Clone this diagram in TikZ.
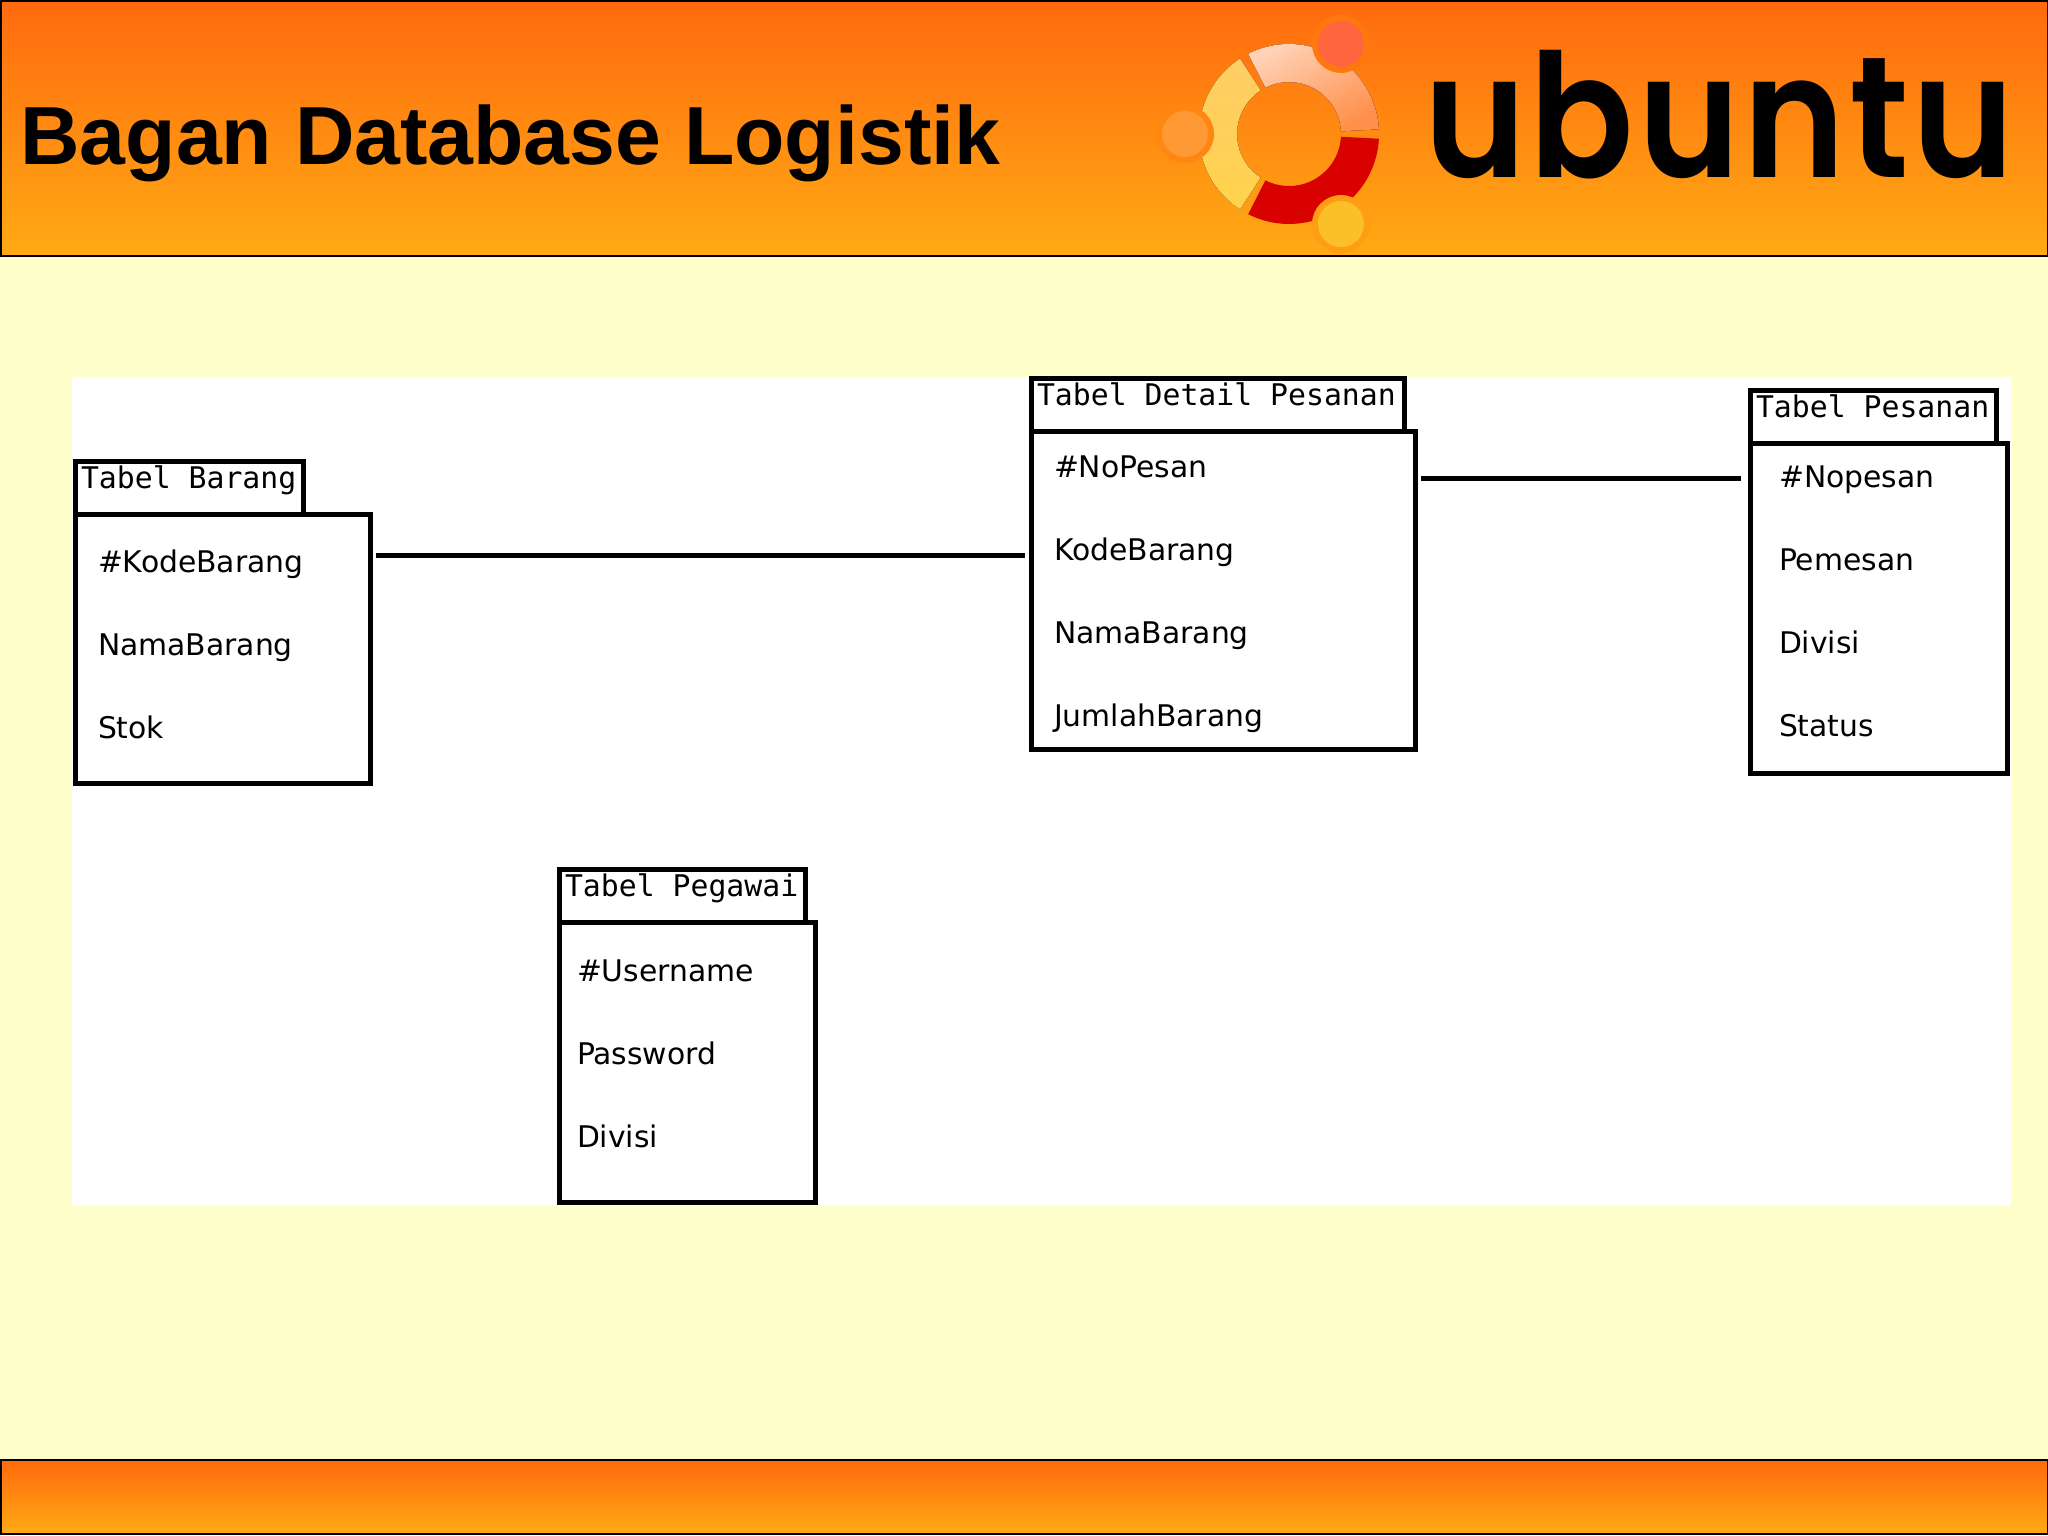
\documentclass[tikz,border=0pt]{standalone}
\usepackage{fontspec}
\setmainfont{DejaVu Sans}
\setmonofont{DejaVu Sans Mono}
\newfontfamily\titlefont{Liberation Sans}
\newfontfamily\wordfont[LetterSpace=2.5]{Poppins SemiBold}
\usetikzlibrary{positioning}
\definecolor{paper}{HTML}{FFFFCC}
\definecolor{bandtop}{HTML}{FF6A0E}
\definecolor{bandbot}{HTML}{FFAA14}
\tikzstyle{band} = [draw=black, line width=1pt, rectangle, anchor=north west, minimum width=1023.5pt, inner sep=0pt, outer sep=0pt, top color=bandtop, bottom color=bandbot]
\tikzstyle{body} = [draw, line width=2.5pt, rectangle, anchor=north west, inner sep=0pt, outer sep=0pt, fill=white]
\tikzstyle{head} = [draw, line width=2.5pt, rectangle, anchor=south west, inner xsep=3pt, inner ysep=0pt, outer sep=0pt, text height=13.5pt, text depth=13pt, align=flush left, font=\ttfamily\fontsize{14.9}{15}\selectfont, fill=white]
\tikzstyle{row} = [anchor=north west, inner sep=0pt, outer sep=0pt, text height=11pt, text depth=3.5pt, font=\fontsize{14.9}{15}\selectfont]
\tikzstyle{link} = [line width=2.5pt, shorten <=3pt, shorten >=3pt]

\begin{document}
\begin{tikzpicture}[x=0.5pt, y=-0.5pt, node distance=27pt]
    \useasboundingbox (0,0) rectangle (2048,1535);
    \fill [paper] (0,0) rectangle (2048,1535);
    \node (top band) [band, minimum height=127.5pt] at (0.5,1) {};
    \node (bottom band) [band, minimum height=37pt] at (0.5,1460) {};
    \node (title) [anchor=base west, inner sep=0pt, font=\titlefont\bfseries\fontsize{41.2}{42}\selectfont] at (20,165) {Bagan Database Logistik};
    \node (panel) [anchor=north west, inner sep=0pt, minimum width=969.5pt, minimum height=414.5pt, fill=white] at (72,377) {};

    % Logo.
    \begin{scope}[shift={(1289,134)}, y=0.5pt]
        \fill [top color=bandtop!30!white, bottom color=bandtop!75!white, shading angle=30] (3:90) arc [start angle=3, end angle=117, radius=90] -- (117:52) arc [start angle=117, end angle=3, radius=52] -- cycle;
        \fill [top color=yellow!35!orange!60!white, bottom color=yellow!50!orange!70!white] (123:90) arc [start angle=123, end angle=237, radius=90] -- (237:52) arc [start angle=237, end angle=123, radius=52] -- cycle;
        \fill [red!85!black] (243:90) arc [start angle=243, end angle=357, radius=90] -- (357:52) arc [start angle=357, end angle=243, radius=52] -- cycle;
        \fill [bandtop!80!bandbot] (60:104) circle (29);
        \fill [bandtop!55!bandbot] (180:104) circle (29);
        \fill [bandtop!20!bandbot] (300:104) circle (29);
        \fill [red!60!orange!75!white] (60:104) circle (23);
        \fill [orange!80!white] (180:104) circle (23);
        \fill [yellow!45!orange!85!white] (300:104) circle (23);
    \end{scope}
    \node (word) [anchor=base west, inner sep=0pt, transform shape, xscale=.895, font=\wordfont\fontsize{86}{86}\selectfont] at (1424,178) {ubuntu};

    % Tables.
    \node (barang body) [body, minimum width=147.5pt, minimum height=134.5pt] at (75,514) {};
    \node (barang head) [head, text width=108pt] at (barang body.north west) {Tabel Barang};
    \node (kode barang) [row, below right=18pt and 11.5pt of barang body.north west] {\#KodeBarang};
    \node (nama barang) [below=of kode barang.south west, row] {NamaBarang};
    \node (stok barang) [below=of nama barang.south west, row] {Stok};

    \node (detail body) [body, minimum width=192pt, minimum height=159pt] at (1031,431) {};
    \node (detail head) [head, text width=180.5pt] at (detail body.north west) {Tabel Detail Pesanan};
    \node (pesan detail) [row, below right=12pt and 11.5pt of detail body.north west] {\#NoPesan};
    \node (kode detail) [below=of pesan detail.south west, row] {KodeBarang};
    \node (nama detail) [below=of kode detail.south west, row] {NamaBarang};
    \node (jumlah detail) [below=of nama detail.south west, row] {JumlahBarang};

    \node (pesanan body) [body, minimum width=128.5pt, minimum height=165pt] at (1750,443) {};
    \node (pesanan head) [head, text width=117pt] at (pesanan body.north west) {Tabel Pesanan};
    \node (pesan pesanan) [row, below right=11pt and 14.5pt of pesanan body.north west] {\#Nopesan};
    \node (pemesan pesanan) [below=of pesan pesanan.south west, row] {Pemesan};
    \node (divisi pesanan) [below=of pemesan pesanan.south west, row] {Divisi};
    \node (status pesanan) [below=of divisi pesanan.south west, row] {Status};

    \node (pegawai body) [body, minimum width=128pt, minimum height=140pt] at (559,922) {};
    \node (pegawai head) [head, text width=117pt] at (pegawai body.north west) {Tabel Pegawai};
    \node (user pegawai) [row, below right=18.5pt and 9pt of pegawai body.north west] {\#Username};
    \node (sandi pegawai) [below=of user pegawai.south west, row] {Password};
    \node (divisi pegawai) [below=of sandi pegawai.south west, row] {Divisi};

    % Lines.
    \coordinate (barang link) at (700,555);
    \coordinate (pesanan link) at (1580,478);
    \draw [link] (barang body.east |- barang link) -- (detail body.west |- barang link);
    \draw [link, shorten >=4.5pt] (detail body.east |- pesanan link) -- (pesanan body.west |- pesanan link);
\end{tikzpicture}
\end{document}
